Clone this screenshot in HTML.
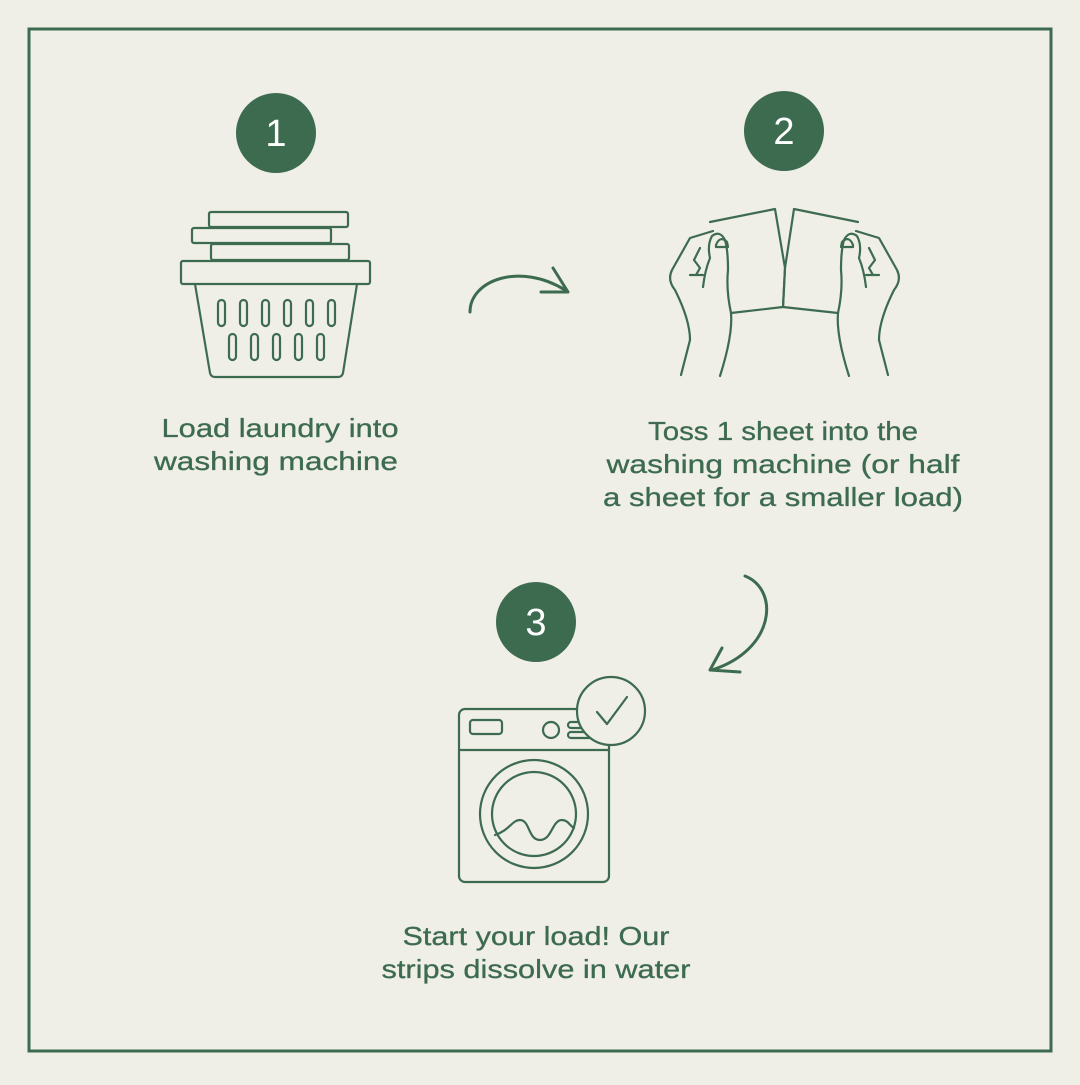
<!DOCTYPE html>
<html><head><style>
html,body{margin:0;padding:0;background:#efeee7;}
.t{font-family:"Liberation Sans",sans-serif;font-size:26px;fill:#3d6b50;text-anchor:middle;stroke:#3d6b50;stroke-width:0.3;}
.n{font-family:"Liberation Sans",sans-serif;font-size:38px;fill:#fff;text-anchor:middle;}
</style></head><body>
<svg width="1080" height="1080" viewBox="0 0 1080 1080" xmlns="http://www.w3.org/2000/svg">
<rect width="1080" height="1080" fill="#efeee7"/>
<rect x="29" y="29" width="1022" height="1022" fill="none" stroke="#3d6b50" stroke-width="3"/>
<g fill="#3d6b50">
<circle cx="276" cy="133" r="40"/><circle cx="784" cy="131" r="40"/><circle cx="536" cy="622" r="40"/>
</g>
<text class="n" x="276" y="146">1</text><text class="n" x="784" y="144">2</text><text class="n" x="536" y="635">3</text>
<g fill="none" stroke="#3d6b50" stroke-width="2.2" stroke-linejoin="round" stroke-linecap="round">
<rect x="209" y="212" width="139" height="15" rx="2"/>
<rect x="192" y="228" width="139" height="15" rx="2"/>
<rect x="211" y="244" width="138" height="16" rx="2"/>
<rect x="181" y="261" width="189" height="23" rx="2"/>
<path d="M195 284 L210 373 Q211 377 215 377 L338 377 Q342 377 343 373 L357 284"/>
<rect x="218" y="300" width="7" height="26" rx="3.5"/><rect x="240" y="300" width="7" height="26" rx="3.5"/>
<rect x="262" y="300" width="7" height="26" rx="3.5"/><rect x="284" y="300" width="7" height="26" rx="3.5"/>
<rect x="306" y="300" width="7" height="26" rx="3.5"/><rect x="328" y="300" width="7" height="26" rx="3.5"/>
<rect x="229" y="334" width="7" height="26" rx="3.5"/><rect x="251" y="334" width="7" height="26" rx="3.5"/>
<rect x="273" y="334" width="7" height="26" rx="3.5"/><rect x="295" y="334" width="7" height="26" rx="3.5"/>
<rect x="317" y="334" width="7" height="26" rx="3.5"/>
<path d="M470 312 C470 280 520 262 565 290" stroke-width="3"/>
<path d="M541 292 L568 292 L553 268" stroke-width="3"/>
<path d="M745 576 C780 590 775 650 712 670" stroke-width="3"/>
<path d="M722 648 L710 670 L740 672" stroke-width="3"/>
<path d="M710 222 L775 209 L785 268 L783 307 L731 313"/>
<path d="M794 209 L858 222 M838 313 L783 307 L785 268 L794 209"/>
<path d="M713 231 L690 238 L672 270 Q667 280 675 290 Q690 320 690 340 L681 375"/>
<path d="M731 313 Q733 335 720 376"/>
<path d="M731 313 Q726 290 728 270 Q728 250 725 240 Q720 230 712 236 Q707 245 710 258 Q705 270 703 287"/>
<path d="M716 247 L716 245 Q720 235 727 242 L728 247 Z"/>
<path d="M700 248 L694 260 L700 268 L696 275 M690 275 L703 275"/>
<path d="M856 231 L879 238 L897 270 Q902 280 894 290 Q879 320 879 340 L888 375"/>
<path d="M838 313 Q836 335 849 376"/>
<path d="M838 313 Q843 290 841 270 Q841 250 844 240 Q849 230 857 236 Q862 245 859 258 Q864 270 866 287"/>
<path d="M853 247 L853 245 Q849 235 842 242 L841 247 Z"/>
<path d="M869 248 L875 260 L869 268 L873 275 M879 275 L866 275"/>
<rect x="459" y="709" width="150" height="173" rx="6"/>
<line x1="459" y1="750" x2="609" y2="750"/>
<rect x="470" y="720" width="32" height="14" rx="3"/>
<circle cx="551" cy="730" r="8"/>
<rect x="568" y="722" width="28" height="6" rx="3"/><rect x="568" y="732" width="28" height="6" rx="3"/>
<circle cx="534" cy="814" r="54"/><circle cx="534" cy="814" r="42"/>
<path d="M495 835 C510 830 512 820 520 820 C530 820 528 840 540 840 C552 840 552 820 562 820 C568 820 570 826 574 828"/>
<circle cx="611" cy="711" r="34" fill="#efeee7"/>
<path d="M597 712 L607 724 L627 697"/>
</g>
<text class="t" x="280" y="437" textLength="237" lengthAdjust="spacingAndGlyphs">Load laundry into</text>
<text class="t" x="276" y="470" textLength="244" lengthAdjust="spacingAndGlyphs">washing machine</text>
<text class="t" x="783" y="440" textLength="270" lengthAdjust="spacingAndGlyphs">Toss 1 sheet into the</text>
<text class="t" x="783" y="473" textLength="353" lengthAdjust="spacingAndGlyphs">washing machine (or half</text>
<text class="t" x="783" y="506" textLength="360" lengthAdjust="spacingAndGlyphs">a sheet for a smaller load)</text>
<text class="t" x="536" y="945" textLength="267" lengthAdjust="spacingAndGlyphs">Start your load! Our</text>
<text class="t" x="536" y="978" textLength="309" lengthAdjust="spacingAndGlyphs">strips dissolve in water</text>
</svg>
</body></html>
